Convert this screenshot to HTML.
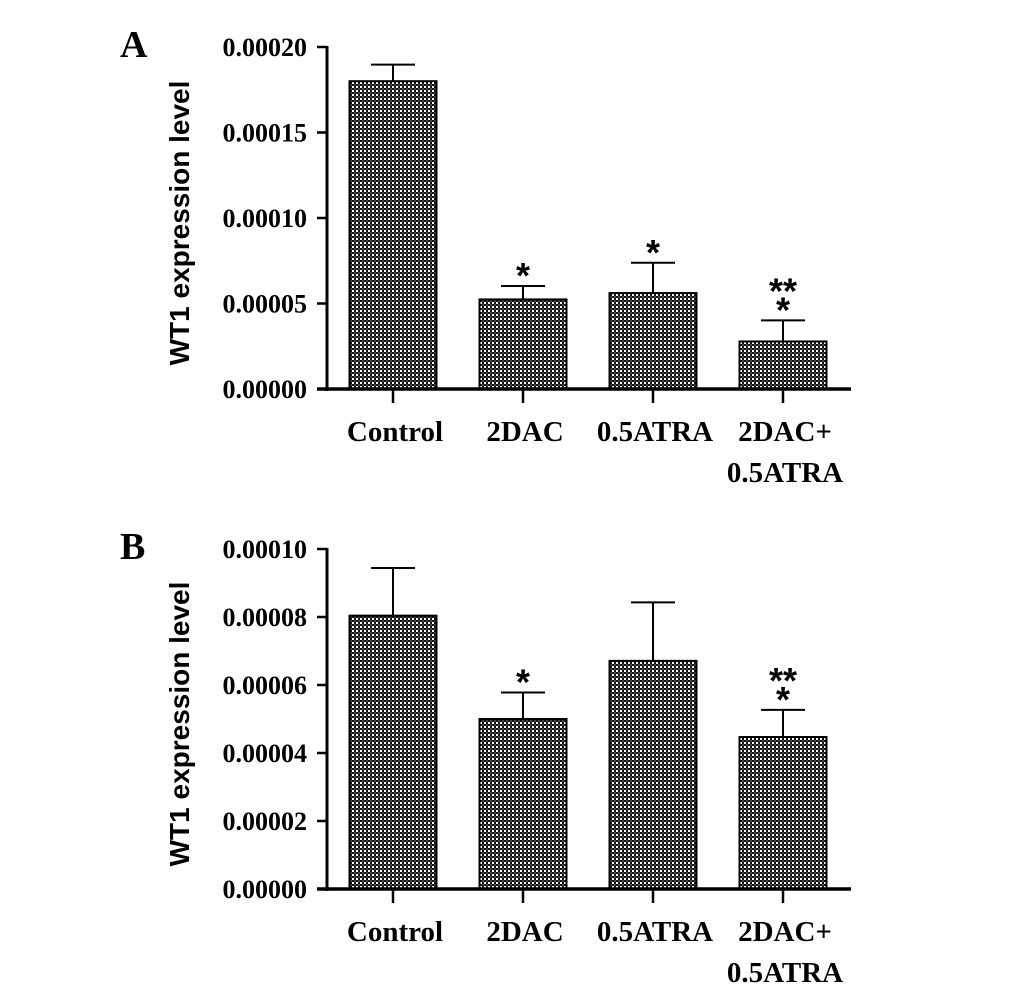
<!DOCTYPE html>
<html><head><meta charset="utf-8"><style>
body{margin:0;background:#fff;}
svg{display:block;}
.tick{font-family:"Liberation Serif",serif;font-weight:bold;font-size:26px;}
.cat{font-family:"Liberation Serif",serif;font-weight:bold;font-size:29px;}
.ttl{font-family:"Liberation Sans",sans-serif;font-weight:bold;font-size:28px;}
.let{font-family:"Liberation Serif",serif;font-weight:bold;font-size:38px;}
.ast{font-family:"Liberation Sans",sans-serif;font-weight:bold;font-size:36px;}
</style></head><body>
<svg id="fig" width="1033" height="987">
<defs>
<pattern id="chk" width="4" height="4" patternUnits="userSpaceOnUse">
<rect width="4" height="4" fill="#fff"/>
<rect width="2" height="2" fill="#111"/>
<rect x="2" y="2" width="2" height="2" fill="#111"/>
<rect x="2" y="0" width="2" height="2" fill="#444"/>
</pattern>
</defs>
</svg>
<script>
const categories = ["Control","2DAC","0.5ATRA","2DAC+|0.5ATRA"];
const valuesA = [0.000180, 0.0000524, 0.0000561, 0.0000278];
const errorsA = [0.0000097, 0.0000078, 0.0000177, 0.0000123];
const sigA = ["", "*", "*", "**|*"];
const ticksA = [0, 0.00005, 0.00010, 0.00015, 0.00020];
const tickLabelsA = ["0.00000","0.00005","0.00010","0.00015","0.00020"];
const valuesB = [0.0000804, 0.0000500, 0.0000671, 0.0000447];
const errorsB = [0.0000140, 0.0000078, 0.0000172, 0.0000080];
const sigB = ["", "*", "", "**|*"];
const ticksB = [0, 0.00002, 0.00004, 0.00006, 0.00008, 0.00010];
const tickLabelsB = ["0.00000","0.00002","0.00004","0.00006","0.00008","0.00010"];

const svg = document.getElementById('fig');
const NS = 'http://www.w3.org/2000/svg';
function mk(tag, attrs, parent){const e=document.createElementNS(NS,tag);for(const k in attrs)e.setAttribute(k,attrs[k]);(parent||svg).appendChild(e);return e;}

function panel(id, letter, top, base, ymax, vals, errs, sigs, ticks, tlabels){
  const g = mk('g',{});
  
  
  const ax = 327, axEnd = 851;
  const y = v => base - v/ymax*(base-top);
  const xc = i => 393 + 130*i;
  const bw = 87;
  const L = mk('text',{x:120,y:top+10,class:'let'},g); L.textContent=letter;
  
  
  const t = mk('text',{class:'ttl','text-anchor':'middle',transform:`translate(189,${(top+base)/2+5}) rotate(-90)`},g);
  t.textContent='WT1 expression level';
  
  
  vals.forEach((v,i)=>{
    const cx = xc(i);
    const r = mk('rect',{x:cx-bw/2,y:y(v),width:bw,height:base-y(v),fill:'url(#chk)',stroke:'#000','stroke-width':2},g);
    
    
    const ey = y(v+errs[i]);
    const e1 = mk('line',{x1:cx,x2:cx,y1:y(v),y2:ey,stroke:'#000','stroke-width':2},g);
    
    
    mk('line',{x1:cx-22,x2:cx+22,y1:ey,y2:ey,stroke:'#000','stroke-width':2},g);
    if(sigs[i]){
      const parts = sigs[i].split('|');
      parts.reverse().forEach((s,k)=>{
        const a = mk('text',{x:cx,y:ey+2-k*19,class:'ast','text-anchor':'middle'},g);
        a.textContent=s;
        
        
      });
    }
    mk('line',{x1:cx,x2:cx,y1:base,y2:base+14,stroke:'#000','stroke-width':2.5},g);
    const lines = categories[i].split('|');
    lines.forEach((s,k)=>{
      const c = mk('text',{x:cx+2,y:base+52+k*41,class:'cat','text-anchor':'middle'},g);
      c.textContent=s;
      
      
    });
  });
  ticks.forEach((tv,i)=>{
    const ty = y(tv);
    mk('line',{x1:ax-10,x2:ax,y1:ty,y2:ty,stroke:'#000','stroke-width':2.5},g);
    const tl = mk('text',{x:307,y:ty+9,class:'tick','text-anchor':'end'},g);
    tl.textContent=tlabels[i];
    
    
  });
  const ya = mk('line',{x1:ax,x2:ax,y1:top-1,y2:base+2,stroke:'#000','stroke-width':3},g);
  
  
  const xa = mk('line',{x1:ax-10,x2:axEnd,y1:base,y2:base,stroke:'#000','stroke-width':3.5},g);
  
  
}
panel('a','A',47,389,0.00020,valuesA,errorsA,sigA,ticksA,tickLabelsA);
panel('b','B',549,889,0.00010,valuesB,errorsB,sigB,ticksB,tickLabelsB);
</script>
</body></html>
